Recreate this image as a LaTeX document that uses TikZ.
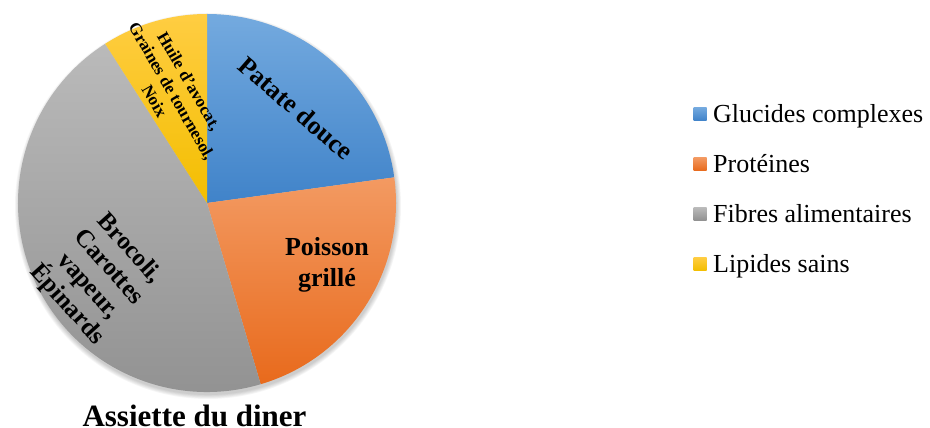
\documentclass[tikz,border=0pt]{standalone}
\usepackage{fontspec}
\setmainfont{Liberation Serif}
\definecolor{bluetop}{RGB}{116,170,223}
\definecolor{bluebot}{RGB}{64,131,201}
\definecolor{oratop}{RGB}{243,154,98}
\definecolor{orabot}{RGB}{232,106,28}
\definecolor{graytop}{RGB}{186,186,186}
\definecolor{graybot}{RGB}{144,144,144}
\definecolor{yeltop}{RGB}{255,205,66}
\definecolor{yelbot}{RGB}{243,190,0}
\begin{document}
\begin{tikzpicture}[x=1pt,y=1pt,
  lbl/.style={font=\bfseries\fontsize{26}{31}\selectfont, inner sep=0pt, align=center},
  lblsmall/.style={font=\bfseries\fontsize{17}{20}\selectfont, inner sep=0pt, align=center},
  legsq/.style={minimum size=13pt, inner sep=0pt},
  legtxt/.style={font=\fontsize{26}{30}\selectfont, inner sep=0pt, anchor=base west}]
\useasboundingbox (0,0) rectangle (930,428);
\coordinate (c) at (207,225);
\def\R{189pt}
% soft shadow
\foreach \k in {0,...,5}
  \fill[black,opacity=0.035] ([shift={(1,-3)}]c) circle[radius=189pt+\k*0.8pt];
% slices
\shade[top color=bluetop,bottom color=bluebot]
  (c) -- ++(90:\R) arc[start angle=90,end angle=7.8,radius=\R] -- cycle;
\shade[top color=oratop,bottom color=orabot]
  (c) -- ++(7.8:\R) arc[start angle=7.8,end angle=-73.5,radius=\R] -- cycle;
\shade[top color=graytop,bottom color=graybot]
  (c) -- ++(-73.5:\R) arc[start angle=-73.5,end angle=-237.4,radius=\R] -- cycle;
\shade[top color=yeltop,bottom color=yelbot]
  (c) -- ++(122.6:\R) arc[start angle=122.6,end angle=90,radius=\R] -- cycle;
% slice labels
\node[lbl, rotate=-41] (patate) at (296,320) {Patate douce};
\node[lbl] (poisson) at (327,163.5) {Poisson\\grillé};
\node[lbl, font=\bfseries\fontsize{25}{28}\selectfont, rotate=-48] (brocoli) at (98,151)
  {Brocoli,\\Carottes\\vapeur,\\Épinards};
\node[lblsmall, rotate=-60] (huile) at (172,337)
  {Huile d'avocat,\\Graines de tournesol,\\Noix};
% title
\node[font=\bfseries\fontsize{31}{36}\selectfont, anchor=base, inner sep=0pt] (title)
  at (194.5,1) {Assiette du diner};
% legend
\node[legsq, top color=bluetop, bottom color=bluebot] (sq1) at (700,314) {};
\node[legtxt] (lg1) at (713,305) {Glucides complexes};
\node[legsq, top color=oratop, bottom color=orabot] (sq2) at (700,264) {};
\node[legtxt] (lg2) at (713,255) {Protéines};
\node[legsq, top color=graytop, bottom color=graybot] (sq3) at (700,214) {};
\node[legtxt] (lg3) at (713,205) {Fibres alimentaires};
\node[legsq, top color=yeltop, bottom color=yelbot] (sq4) at (700,164) {};
\node[legtxt] (lg4) at (713,155) {Lipides sains};
\end{tikzpicture}
\end{document}
